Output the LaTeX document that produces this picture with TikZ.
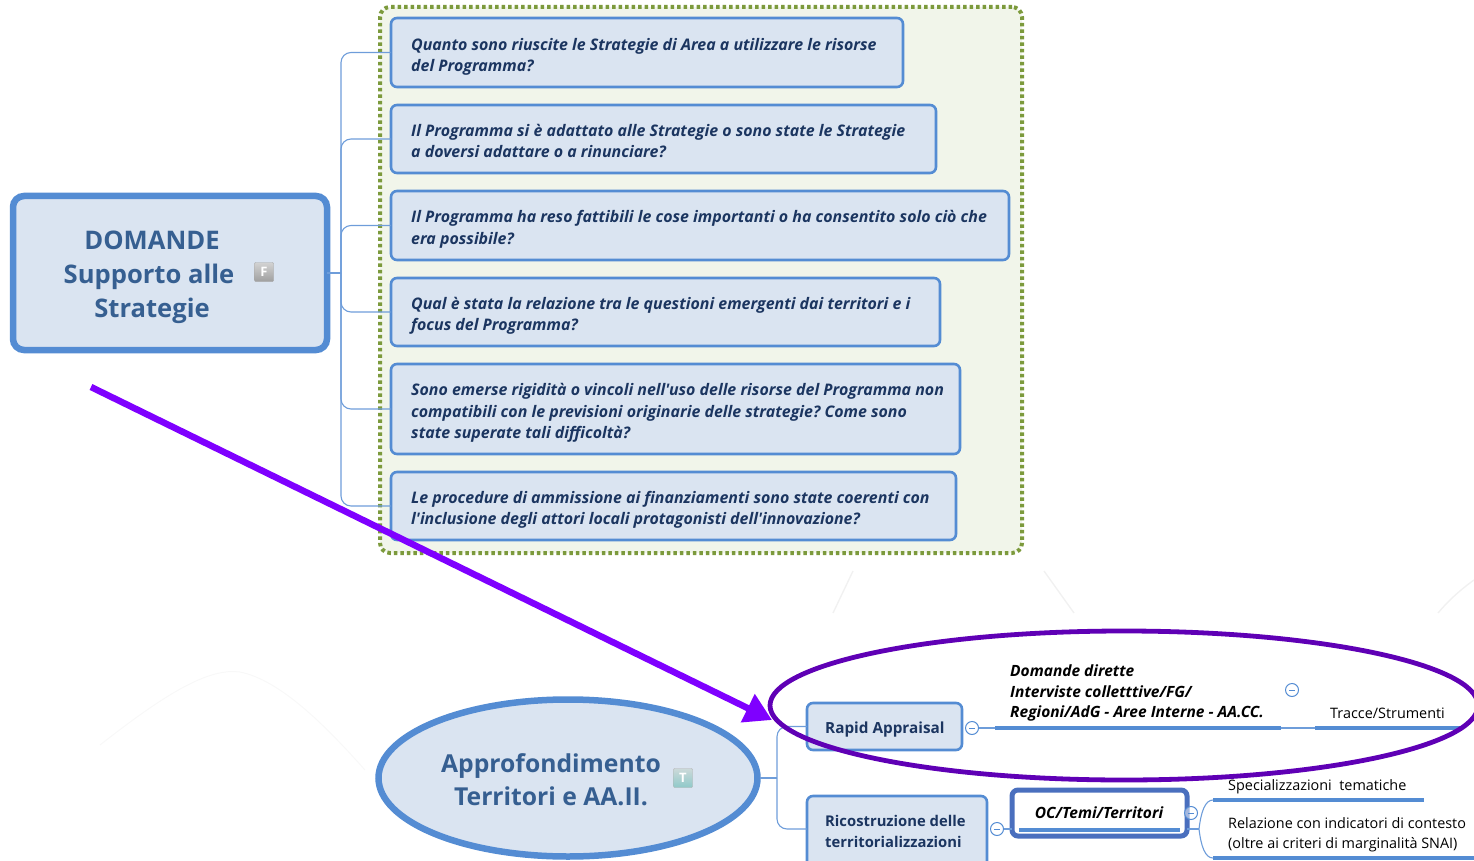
\documentclass[tikz,border=0pt]{standalone}
\usepackage{fontspec}
\setmainfont{Open Sans}[Ligatures=TeXOff]
\usetikzlibrary{shapes.geometric,arrows.meta,calc}
\definecolor{topicfill}{HTML}{DAE4F1}
\definecolor{topicline}{HTML}{548CD3}
\definecolor{topictext}{HTML}{365F91}
\definecolor{subtext}{HTML}{1B3560}
\definecolor{greenfill}{HTML}{F1F5EA}
\definecolor{greenline}{HTML}{7C9A3C}
\definecolor{arrowvio}{HTML}{7F00FF}
\definecolor{ringvio}{HTML}{5F00B5}
\definecolor{okline}{HTML}{4A6FBE}
\definecolor{faintline}{HTML}{F1F1F1}
\tikzset{
  qbox/.style={draw=topicline,fill=topicfill,line width=2.6pt,rounded corners=6pt,anchor=north west,
    inner sep=0pt,outer sep=0pt},
  qtext/.style={inner sep=0pt,anchor=west,align=left,text=subtext,
    font=\fontsize{15.95}{21.5}\selectfont\bfseries\itshape\frenchspacing},
  mainbox/.style={draw=topicline,fill=topicfill,line width=6.5pt,rounded corners=11pt,anchor=center,
    minimum width=314pt,minimum height=154pt,inner sep=0pt,outer sep=0pt},
  bigtext/.style={inner sep=0pt,align=center,text=topictext,font=\fontsize{25.6}{34}\selectfont\bfseries},
  subbox/.style={draw=topicline,fill=topicfill,line width=2.6pt,rounded corners=6pt,anchor=north west,
    inner sep=0pt,outer sep=0pt},
  subtxt/.style={inner sep=0pt,anchor=west,align=left,text=subtext,font=\fontsize{15.3}{21}\selectfont\bfseries},
  conn/.style={draw=topicline!85!white,line width=1.1pt,rounded corners=10pt},
  thick line/.style={draw=topicline,line width=3.6pt},
  plain/.style={inner sep=0pt,anchor=west,align=left,text=black,font=\fontsize{14.4}{20}\selectfont},
  bolditalic/.style={inner sep=0pt,anchor=west,align=left,text=black,font=\fontsize{15.5}{20.8}\selectfont\bfseries\itshape},
  collapser/.style={circle,draw=topicline,fill=white,line width=1pt,minimum size=13pt,inner sep=0pt,
    path picture={\draw[topicline,line width=.9pt] ($(path picture bounding box.center)+(-3pt,0)$) -- ($(path picture bounding box.center)+(3pt,0)$);}},
  iconF/.style={draw=gray!70,rounded corners=1pt,top color=gray!35,bottom color=gray!75,text=white,
    minimum width=19pt,minimum height=19pt,inner sep=0pt,font=\fontsize{13}{13}\selectfont\bfseries},
  iconT/.style={draw=gray!60,rounded corners=1pt,top color=cyan!15!gray!35,bottom color=cyan!35!gray!65,text=white,
    minimum width=19pt,minimum height=19pt,inner sep=0pt,font=\fontsize{13}{13}\selectfont\bfseries},
  faint/.style={draw=faintline,line width=1.4pt}
}
% name, x, y, width, height, text shift, text
\newcommand{\questionbox}[7]{%
  \node[qbox,minimum width=#4pt,minimum height=#5pt] (#1) at (#2,#3) {};
  \node[qtext] (#1t) at (#2+20,#3+#5/2+#6) {#7};
}
\begin{document}
\begin{tikzpicture}[x=1pt,y=-1pt]
\useasboundingbox (0,0) rectangle (1474,861);
\clip (0,0) rectangle (1474,861);
% faint background
\draw[faint] (853,571) -- (833,613);
\draw[faint] (1044,571) -- (1074,613);
\draw[faint] (1474,580) .. controls (1460,590) and (1448,601) .. (1438,613);
\draw[draw=faintline!50!white,line width=1pt] (100,745) .. controls (170,690) and (210,668) .. (240,672) .. controls (280,680) and (325,725) .. (365,770);
% green boundary
\node[draw=greenline,fill=greenfill,line width=4pt,dash pattern=on 3.5pt off 3pt,rounded corners=10pt,
  minimum width=642pt,minimum height=546pt,inner sep=0pt,outer sep=0pt,anchor=north west] (boundary) at (380,7) {};
% questions
\questionbox{q1}{391}{18}{512}{69}{4.5}{Quanto sono riuscite le Strategie di Area a utilizzare le risorse\\del Programma?}
\questionbox{q2}{391}{105}{545}{68}{2}{Il Programma si è adattato alle Strategie o sono state le Strategie\\a doversi adattare o a rinunciare?}
\questionbox{q3}{391}{191}{618}{69}{4}{Il Programma ha reso fattibili le cose importanti o ha consentito solo ciò che\\era possibile?}
\questionbox{q4}{391}{278}{549}{68}{4}{Qual è stata la relazione tra le questioni emergenti dai territori e i\\focus del Programma?}
\questionbox{q5}{391}{364}{569}{90}{4}{Sono emerse rigidità o vincoli nell'uso delle risorse del Programma non\\compatibili con le previsioni originarie delle strategie? Come sono\\state superate tali difficoltà?}
\questionbox{q6}{391}{472}{565}{68}{4}{Le procedure di ammissione ai finanziamenti sono state coerenti con\\l'inclusione degli attori locali protagonisti dell'innovazione?}
% main topic
\node[mainbox] (main) at (170,273) {};
\node[bigtext] (maintext) at (152,277) {DOMANDE\\Supporto alle\hspace{6pt}\mbox{}\\Strategie};
\node[iconF] (fic) at (264,272) {F};
\coordinate (trunkA) at (341,273);
\draw[conn] (main.east) -- (trunkA);
\foreach \q in {q1,q2,q3,q4,q5,q6}{\draw[conn] (trunkA) |- (\q.west);}
% lower topic
\node[ellipse,draw=topicline,fill=topicfill,line width=6.5pt,minimum width=379pt,minimum height=157pt,inner sep=0pt,outer sep=0pt] (apro) at (568,778) {};
\node[bigtext,font=\fontsize{24.7}{33}\selectfont\bfseries] (aprotext) at (551,780) {Approfondimento\\Territori e AA.II.};
\node[iconT] (tic) at (683,778) {T};
% lower branch boxes
\node[subbox,minimum width=155pt,minimum height=47pt] (rapid) at (807,703) {};
\node[subtxt] (rapidtext) at (825,730) {Rapid Appraisal};
\node[subbox,minimum width=180pt,minimum height=76pt] (rico) at (807,796) {};
\node[subtxt,font=\fontsize{14.8}{21}\selectfont\bfseries] (ricotext) at (825,831) {Ricostruzione delle\\territorializzazioni};
\coordinate (trunkB) at (777,778);
\draw[conn] (apro.east) ++(2,0) -- (trunkB);
\draw[conn] (trunkB) |- (rapid.west);
\draw[conn] (trunkB) |- (807,829) coordinate (ricoin);
% Rapid appraisal line
\node[collapser] (c1) at (972,728) {};
\coordinate (d0) at (995,728); \coordinate (d1) at (1281,728);
\coordinate (t0) at (1315,728); \coordinate (t1) at (1460,728);
\draw[conn] (c1) -- (d0);
\draw[thick line] (d0) -- (d1);
\draw[conn] (d1) -- (t0);
\draw[thick line] (t0) -- (t1);
\node[bolditalic] (dom) at (1010,693) {Domande dirette\\Interviste colletttive/FG/\\Regioni/AdG - Aree Interne - AA.CC.};
\node[collapser] (c2) at (1292,690) {};
\node[plain] (tracce) at (1330,713) {Tracce/Strumenti};
% OC box
\node[collapser] (c3) at (997,829) {};
\node[draw=okline,fill=white,line width=5pt,rounded corners=6pt,minimum width=175pt,minimum height=46pt,inner sep=0pt,outer sep=0pt,anchor=north west] (oc) at (1012,790) {};
\node[inner sep=0pt,text=black,font=\fontsize{15.5}{18}\selectfont\bfseries\itshape] (octext) at (1099,813) {OC/Temi/Territori};
\coordinate (u0) at (1019,830); \coordinate (u1) at (1180,830);
\draw[draw=topicline,line width=3.4pt] (u0) -- (u1);
\draw[conn] (c3) -- (oc.west |- c3);
\node[collapser,fill opacity=.5] (c4) at (1191,813) {};
\coordinate (s0) at (1213,800); \coordinate (s1) at (1424,800);
\coordinate (r0) at (1213,858); \coordinate (r1) at (1474,858);
\coordinate (fork) at (1199,829);
\draw[conn] (oc.east |- fork) -- (fork);
\draw[conn,rounded corners=0pt] (fork) .. controls (1201,812) and (1205,800) .. (s0);
\draw[conn,rounded corners=0pt] (fork) .. controls (1201,846) and (1205,858) .. (r0);
\draw[thick line] (s0) -- (s1);
\draw[thick line] (r0) -- (r1);
\node[plain] (spec) at (1228,787) {Specializzazioni\ \ tematiche};
\node[plain] (rel) at (1228,835) {Relazione con indicatori di contesto\\(oltre ai criteri di marginalità SNAI)};
% purple ring and arrow
\node[ellipse,draw=ringvio,line width=4.8pt,minimum width=708pt,minimum height=149pt,inner sep=0pt,outer sep=0pt] (ring) at (1124,705.5) {};
\coordinate (a0) at (91,387);
\coordinate (a1) at (772,720);
\draw[draw=arrowvio,line width=6.5pt,-{Triangle[length=27pt,width=30pt]}] (a0) -- (a1);
\end{tikzpicture}
\end{document}
